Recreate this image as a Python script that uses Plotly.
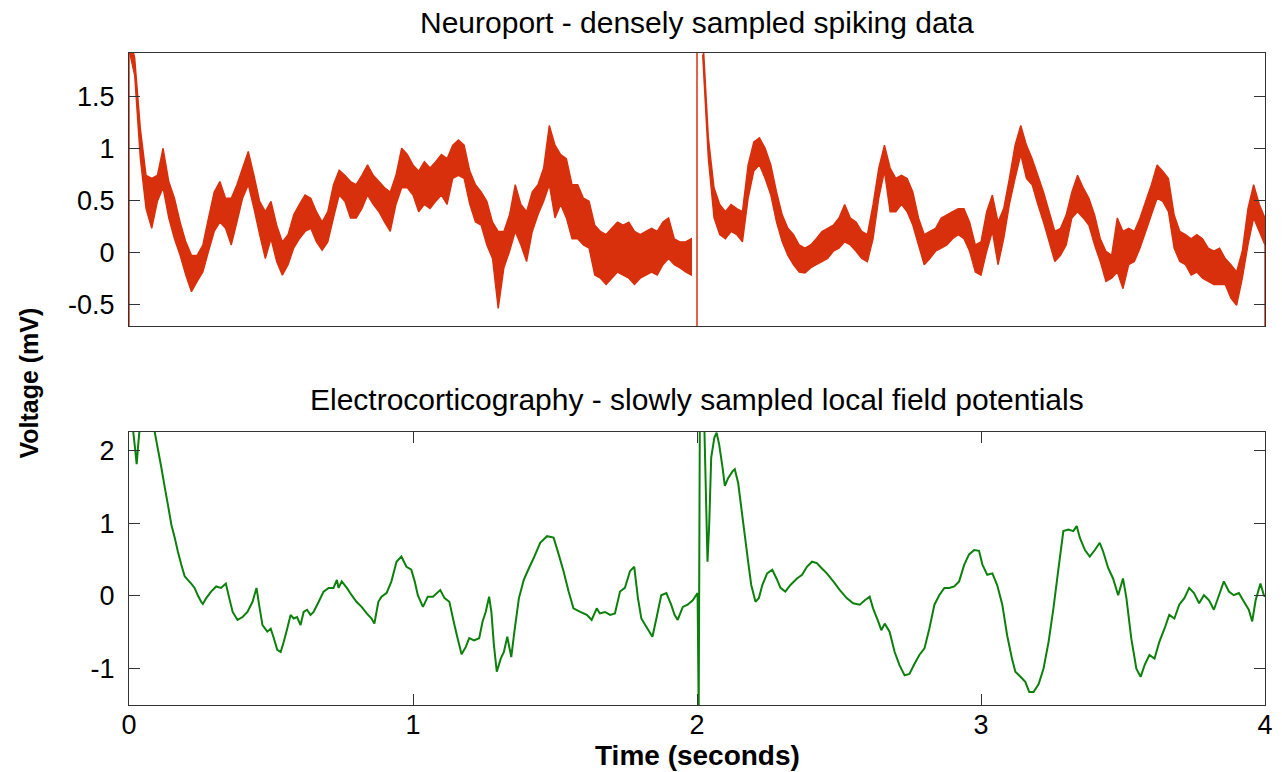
import plotly.graph_objects as go

# ---------------- Neuroport (top panel): upper / lower envelope of the dense trace
# samples every 20 ms; the 2.00 s sample sits on the recording boundary and is drawn
# separately as a boundary artefact
neuro_t = [round(0.02 * i, 2) for i in range(201) if i != 100]
neuro_hi = [
    2.10, 1.87, 1.19, 0.74, 0.71, 0.74, 1.00, 0.68, 0.52, 0.29,
    0.10, -0.03, -0.03, 0.07, 0.33, 0.58, 0.68, 0.52, 0.52, 0.65,
    0.81, 0.97, 0.74, 0.49, 0.39, 0.49, 0.26, 0.10, 0.17, 0.36,
    0.46, 0.55, 0.52, 0.39, 0.29, 0.39, 0.65, 0.79, 0.74, 0.68,
    0.65, 0.74, 0.84, 0.74, 0.68, 0.62, 0.58, 0.74, 1.00, 0.94,
    0.84, 0.78, 0.87, 0.81, 0.87, 0.94, 0.90, 1.03, 1.08, 1.03,
    0.78, 0.65, 0.58, 0.49, 0.29, 0.20, 0.20, 0.36, 0.65, 0.46,
    0.39, 0.58, 0.65, 0.81, 1.22, 1.03, 0.94, 0.90, 0.65, 0.65,
    0.52, 0.49, 0.26, 0.20, 0.17, 0.23, 0.29, 0.26, 0.29, 0.20,
    0.17, 0.20, 0.23, 0.20, 0.29, 0.33, 0.13, 0.10, 0.10, 0.13,
    2.10, 1.10, 0.62, 0.46, 0.39, 0.46, 0.42, 0.39, 0.84,
    1.06, 1.10, 1.00, 0.84, 0.58, 0.36, 0.23, 0.17, 0.07, 0.04,
    0.07, 0.13, 0.20, 0.23, 0.26, 0.33, 0.46, 0.33, 0.29, 0.20,
    0.17, 0.46, 0.81, 1.03, 0.81, 0.71, 0.74, 0.71, 0.58, 0.33,
    0.17, 0.20, 0.23, 0.33, 0.36, 0.39, 0.42, 0.42, 0.29, 0.07,
    0.10, 0.39, 0.55, 0.29, 0.42, 0.71, 1.03, 1.22, 1.03, 0.90,
    0.74, 0.58, 0.39, 0.20, 0.23, 0.36, 0.58, 0.74, 0.62, 0.52,
    0.36, 0.13, 0.01, -0.03, 0.33, 0.20, 0.23, 0.20, 0.33, 0.49,
    0.65, 0.84, 0.78, 0.71, 0.36, 0.20, 0.17, 0.13, 0.17, 0.13,
    0.04, 0.01, 0.04, -0.06, -0.12, -0.19, 0.01, 0.42, 0.65, 0.46,
    0.33,
]
neuro_lo = [
    1.95, 1.70, 0.90, 0.42, 0.23, 0.49, 0.62, 0.33, 0.13, -0.03,
    -0.22, -0.38, -0.28, -0.19, 0.01, 0.20, 0.29, 0.23, 0.07, 0.29,
    0.52, 0.65, 0.42, 0.17, -0.06, 0.13, -0.09, -0.22, -0.12, 0.04,
    0.13, 0.20, 0.23, 0.10, 0.02, 0.10, 0.33, 0.55, 0.49, 0.33,
    0.33, 0.42, 0.55, 0.46, 0.39, 0.29, 0.20, 0.46, 0.62, 0.62,
    0.55, 0.39, 0.46, 0.42, 0.49, 0.55, 0.46, 0.71, 0.74, 0.71,
    0.46, 0.29, 0.26, 0.07, -0.06, -0.54, -0.15, 0.01, 0.20, 0.07,
    -0.09, 0.20, 0.36, 0.49, 0.65, 0.33, 0.46, 0.33, 0.13, 0.13,
    0.07, 0.04, -0.22, -0.25, -0.31, -0.25, -0.19, -0.22, -0.25, -0.31,
    -0.25, -0.22, -0.19, -0.22, -0.12, -0.06, -0.12, -0.15, -0.19, -0.22,
    1.90, 0.90, 0.33, 0.17, 0.13, 0.20, 0.17, 0.10, 0.52,
    0.78, 0.84, 0.71, 0.55, 0.29, 0.10, -0.03, -0.12, -0.19, -0.20,
    -0.15, -0.12, -0.09, -0.06, 0.01, 0.04, 0.10, 0.07, 0.01, -0.06,
    -0.09, 0.13, 0.52, 0.78, 0.39, 0.39, 0.46, 0.39, 0.26, 0.07,
    -0.12, -0.06, 0.01, 0.04, 0.07, 0.13, 0.17, 0.13, 0.01, -0.19,
    -0.22, 0.01, 0.20, -0.12, 0.13, 0.46, 0.71, 0.94, 0.71, 0.65,
    0.46, 0.29, 0.10, -0.09, -0.03, 0.07, 0.33, 0.39, 0.33, 0.26,
    0.07, -0.09, -0.28, -0.25, -0.19, -0.35, -0.12, -0.09, 0.04, 0.20,
    0.36, 0.52, 0.49, 0.39, 0.04, -0.09, -0.12, -0.22, -0.19, -0.25,
    -0.28, -0.31, -0.31, -0.31, -0.44, -0.51, -0.25, 0.07, 0.33, 0.20,
    0.07,
]
# recording-boundary artefacts (full-scale jumps)
neuro_jump_t = [0.0, 2.0, 4.0]
neuro_jump_lo = [-0.90, -0.90, -0.90]
neuro_jump_hi = [2.10, 2.10, 0.20]

# ---------------- Electrocorticography (bottom panel)
ecog_t = [
    0.000, 0.015, 0.022, 0.027, 0.033, 0.040, 0.080, 0.091, 0.103, 0.114,
    0.126, 0.138, 0.149, 0.161, 0.172, 0.184, 0.196, 0.207, 0.219, 0.231,
    0.242, 0.254, 0.260, 0.272, 0.289, 0.307, 0.324, 0.341, 0.353, 0.365,
    0.382, 0.400, 0.417, 0.435, 0.449, 0.458, 0.470, 0.487, 0.499, 0.510,
    0.522, 0.534, 0.545, 0.557, 0.569, 0.580, 0.592, 0.604, 0.615, 0.627,
    0.639, 0.650, 0.668, 0.685, 0.703, 0.720, 0.732, 0.738, 0.749, 0.767,
    0.784, 0.801, 0.819, 0.837, 0.854, 0.864, 0.878, 0.889, 0.907, 0.924,
    0.942, 0.959, 0.977, 0.994, 1.006, 1.017, 1.035, 1.052, 1.070, 1.096,
    1.111, 1.128, 1.146, 1.157, 1.171, 1.186, 1.198, 1.215, 1.233, 1.245,
    1.256, 1.268, 1.276, 1.285, 1.295, 1.309, 1.320, 1.332, 1.346, 1.357,
    1.373, 1.390, 1.408, 1.425, 1.448, 1.472, 1.495, 1.513, 1.530, 1.548,
    1.565, 1.589, 1.612, 1.629, 1.647, 1.658, 1.676, 1.694, 1.711, 1.729,
    1.746, 1.764, 1.779, 1.792, 1.804, 1.821, 1.843, 1.857, 1.874, 1.892,
    1.909, 1.921, 1.932, 1.950, 1.967, 1.985, 2.002, 2.006, 2.010, 2.026,
    2.037, 2.043, 2.050, 2.061, 2.069, 2.078, 2.090, 2.098, 2.110, 2.125,
    2.133, 2.145, 2.156, 2.168, 2.180, 2.191, 2.206, 2.218, 2.230, 2.247,
    2.265, 2.280, 2.294, 2.311, 2.329, 2.352, 2.370, 2.387, 2.405, 2.422,
    2.439, 2.457, 2.480, 2.503, 2.527, 2.550, 2.573, 2.591, 2.608, 2.620,
    2.638, 2.649, 2.661, 2.678, 2.696, 2.713, 2.731, 2.748, 2.766, 2.783,
    2.801, 2.818, 2.836, 2.853, 2.871, 2.888, 2.906, 2.923, 2.941, 2.958,
    2.976, 2.993, 3.005, 3.022, 3.040, 3.057, 3.075, 3.092, 3.109, 3.121,
    3.139, 3.156, 3.170, 3.185, 3.203, 3.220, 3.238, 3.255, 3.273, 3.290,
    3.308, 3.325, 3.337, 3.348, 3.366, 3.383, 3.401, 3.418, 3.430, 3.448,
    3.465, 3.483, 3.500, 3.512, 3.529, 3.547, 3.562, 3.576, 3.593, 3.611,
    3.628, 3.646, 3.663, 3.681, 3.698, 3.716, 3.733, 3.750, 3.768, 3.785,
    3.803, 3.820, 3.838, 3.855, 3.873, 3.890, 3.908, 3.926, 3.943, 3.955,
    3.967, 3.984, 3.996, 4.000,
]
ecog_v = [
    2.35, 2.25, 2.00, 1.81, 2.10, 2.40, 2.40, 2.24, 1.99, 1.76,
    1.49, 1.23, 0.98, 0.80, 0.61, 0.43, 0.27, 0.22, 0.17, 0.11,
    0.01, -0.08, -0.11, -0.03, 0.06, 0.13, 0.11, 0.17, -0.03, -0.22,
    -0.33, -0.29, -0.22, -0.08, 0.11, -0.12, -0.40, -0.49, -0.45, -0.58,
    -0.74, -0.77, -0.63, -0.45, -0.26, -0.31, -0.29, -0.40, -0.22, -0.19,
    -0.26, -0.22, -0.08, 0.06, 0.11, 0.11, 0.22, 0.11, 0.20, 0.11,
    0.01, -0.08, -0.15, -0.24, -0.31, -0.38, -0.08, -0.01, 0.04, 0.20,
    0.47, 0.54, 0.40, 0.36, 0.20, 0.01, -0.15, -0.01, -0.01, 0.08,
    -0.03, -0.08, -0.40, -0.58, -0.80, -0.70, -0.58, -0.61, -0.58, -0.35,
    -0.22, -0.01, -0.22, -0.68, -1.04, -0.86, -0.77, -0.56, -0.84, -0.49,
    -0.03, 0.22, 0.38, 0.52, 0.73, 0.82, 0.80, 0.57, 0.34, 0.06,
    -0.17, -0.22, -0.26, -0.33, -0.17, -0.24, -0.22, -0.26, -0.24, 0.06,
    0.11, 0.34, 0.40, -0.03, -0.31, -0.42, -0.56, -0.31, 0.01, 0.04,
    -0.12, -0.26, -0.33, -0.15, -0.12, -0.06, 0.04, -1.60, 2.40, 2.30,
    0.47, 0.98, 1.90, 2.17, 2.24, 2.08, 1.76, 1.51, 1.62, 1.71,
    1.74, 1.55, 1.21, 0.84, 0.47, 0.15, -0.08, -0.03, 0.15, 0.31,
    0.36, 0.24, 0.11, 0.06, 0.15, 0.24, 0.29, 0.40, 0.47, 0.45,
    0.38, 0.31, 0.20, 0.08, -0.03, -0.10, -0.12, -0.06, -0.01, -0.17,
    -0.35, -0.47, -0.38, -0.49, -0.77, -0.95, -1.09, -1.07, -0.93, -0.81,
    -0.72, -0.45, -0.12, 0.01, 0.11, 0.11, 0.13, 0.20, 0.43, 0.57,
    0.63, 0.62, 0.43, 0.29, 0.31, 0.15, -0.12, -0.54, -0.86, -1.04,
    -1.11, -1.18, -1.32, -1.32, -1.21, -1.00, -0.63, -0.17, 0.38, 0.89,
    0.91, 0.89, 0.96, 0.80, 0.63, 0.54, 0.63, 0.73, 0.61, 0.38,
    0.24, 0.01, 0.24, -0.03, -0.58, -1.00, -1.11, -0.95, -0.81, -0.86,
    -0.63, -0.45, -0.26, -0.31, -0.12, -0.03, 0.11, 0.04, -0.10, 0.01,
    -0.06, -0.19, 0.01, 0.20, 0.06, 0.01, 0.04, -0.08, -0.19, -0.35,
    -0.06, 0.17, 0.01, -0.01,
]

# axis ticks
top_ticks = [-0.5, 0, 0.5, 1, 1.5]
top_ticktext = ["-0.5", "0", "0.5", "1", "1.5"]
bottom_ticks = [-1, 0, 1, 2]
bottom_ticktext = ["-1", "0", "1", "2"]
time_ticks = [0, 1, 2, 3, 4]
time_ticktext = ["0", "1", "2", "3", "4"]

RED = "#d8300c"
GREEN = "#0b800b"
FRAME = "#333333"
FONT = "Liberation Sans, Arial, sans-serif"

fig = go.Figure()

# dense spiking trace: one filled band per continuous recording segment
segments = [[0]]
for i in range(1, len(neuro_t)):
    if neuro_t[i] - neuro_t[i - 1] > 0.03:
        segments.append([])
    segments[-1].append(i)
for seg in segments:
    xs = [neuro_t[i] for i in seg]
    band_x = xs + xs[::-1]
    band_y = [neuro_hi[i] for i in seg] + [neuro_lo[i] for i in seg][::-1]
    fig.add_trace(go.Scatter(
        x=band_x, y=band_y, mode="lines", xaxis="x", yaxis="y",
        fill="toself", fillcolor=RED,
        line=dict(color=RED, width=1.4, simplify=False),
        showlegend=False, hoverinfo="skip",
    ))

# boundary artefacts as thin vertical strokes
jump_x, jump_y = [], []
for t, lo, hi in zip(neuro_jump_t, neuro_jump_lo, neuro_jump_hi):
    jump_x += [t, t, None]
    jump_y += [lo, hi, None]
fig.add_trace(go.Scatter(
    x=jump_x, y=jump_y, mode="lines", xaxis="x", yaxis="y",
    line=dict(color=RED, width=1.5), showlegend=False, hoverinfo="skip",
))

fig.add_trace(go.Scatter(
    x=ecog_t, y=ecog_v, mode="lines", xaxis="x2", yaxis="y2",
    line=dict(color=GREEN, width=2, simplify=False), showlegend=False,
))

axis_common = dict(
    showgrid=False, zeroline=False, showline=True, linecolor=FRAME,
    linewidth=1.2, mirror="ticks", ticks="inside", ticklen=11,
    tickcolor=FRAME, tickwidth=1,
    tickfont=dict(family=FONT, size=27, color="black"),
)

fig.update_layout(
    width=1282, height=772,
    margin=dict(l=129, r=9, t=53, b=67),
    paper_bgcolor="white", plot_bgcolor="white",
    xaxis=dict(domain=[0, 1], range=[0, 4], anchor="y", showgrid=False,
               zeroline=False, showline=True, linecolor=FRAME, linewidth=1.2,
               mirror=True, ticks="", showticklabels=False),
    yaxis=dict(domain=[0.5813, 1], range=[-0.709, 1.916], anchor="x",
               tickvals=top_ticks, ticktext=top_ticktext,
               ticklabelstandoff=8, **axis_common),
    xaxis2=dict(domain=[0, 1], range=[0, 4], anchor="y2",
                tickvals=time_ticks, ticktext=time_ticktext,
                ticklabelstandoff=-5, **axis_common),
    yaxis2=dict(domain=[0, 0.4187], range=[-1.497, 2.25], anchor="x2",
                tickvals=bottom_ticks, ticktext=bottom_ticktext,
                ticklabelstandoff=8, **axis_common),
    annotations=[
        dict(text="Neuroport - densely sampled spiking data", x=0.5, y=1.0475,
             xref="paper", yref="paper", showarrow=False,
             xanchor="center", yanchor="middle",
             font=dict(family=FONT, size=30, color="black")),
        dict(text="Electrocorticography - slowly sampled local field potentials",
             x=0.5, y=0.4678, xref="paper", yref="paper", showarrow=False,
             xanchor="center", yanchor="middle",
             font=dict(family=FONT, size=30, color="black")),
        dict(text="<b>Time (seconds)</b>", x=0.5, y=-0.077,
             xref="paper", yref="paper", showarrow=False,
             xanchor="center", yanchor="middle",
             font=dict(family=FONT, size=28, color="black")),
        dict(text="<b>Voltage (mV)</b>", x=-0.0883, y=0.494, textangle=-90,
             xref="paper", yref="paper", showarrow=False,
             xanchor="center", yanchor="middle",
             font=dict(family=FONT, size=25, color="black")),
    ],
)

fig.write_html("out.html")
